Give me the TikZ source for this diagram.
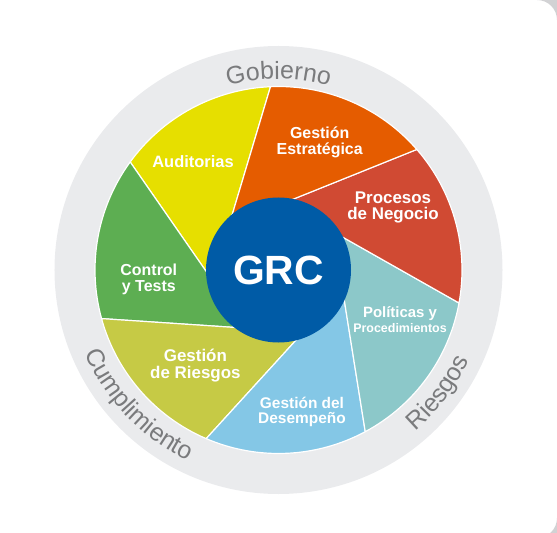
\documentclass[tikz,border=0pt]{standalone}
\usepackage{fontspec}
\setmainfont{Liberation Sans}
\usetikzlibrary{calc,decorations.text}

\definecolor{ringgray}{HTML}{EAEBED}
\definecolor{ringtext}{HTML}{7A7B7D}
\definecolor{cardshade}{HTML}{D2D2D4}
\definecolor{grcblue}{HTML}{005BA6}
\definecolor{segyellow}{HTML}{E6DF00}
\definecolor{segorange}{HTML}{E55C00}
\definecolor{segred}{HTML}{D04A33}
\definecolor{segteal}{HTML}{8CC8C9}
\definecolor{segblue}{HTML}{84C7E6}
\definecolor{segolive}{HTML}{C6CA45}
\definecolor{seggreen}{HTML}{5DAE52}

\tikzset{
  slice/.style={fill=#1,draw=white,line width=1.2pt,line join=round},
  seglabel/.style={text=white,align=center,inner sep=0pt,
    font=\bfseries\fontsize{#1}{#1}\selectfont},
  seglabel/.default=16,
  ringlabel/.style={decorate,decoration={text along path,text align=center,
    text={|\fontsize{25}{25}\selectfont\color{ringtext}|#1}}}
}

\begin{document}
\begin{tikzpicture}[x=1bp,y=1bp]

        \useasboundingbox (-278.5,-263) rectangle (278.5,270);
        \clip (-278.5,-263) rectangle (278.5,270);

        \fill[cardshade] (278.5,270) -- (258.5,270)
          arc[start angle=90,end angle=0,radius=20bp] -- cycle;
        \fill[cardshade] (278.5,-263) -- (278.5,-248)
          arc[start angle=0,end angle=-90,radius=20bp] -- (278.5,-268) -- cycle;

        \fill[ringgray] (0,0) circle[radius=224bp];

        \foreach \c [count=\i from 0] in
            {segyellow,seggreen,segolive,segblue,segteal,segred,segorange} {
          \pgfmathsetmacro{\a}{92.5+\i*360/7}
          \pgfmathsetmacro{\b}{\a+360/7}
          \fill[slice=\c] (0,0)
            -- ($(\a:183.5bp)!1.15!(\a+37:72.5bp)$)
            -- (\a:183.5bp) arc[start angle=\a,end angle=\b,radius=183.5bp]
            -- ($(\b:183.5bp)!1.15!(\b+37:72.5bp)$) -- cycle;
        }

        \node[circle,fill=grcblue,minimum size=145bp,inner sep=0pt,text=white,
          font=\bfseries\fontsize{41}{41}\selectfont] (grc) at (0,0) {GRC};

        \path[ringlabel=Gobierno] (110:191bp)
          arc[start angle=110,end angle=70,radius=191bp];
        \path[ringlabel=Cumplimiento] (198:211bp)
          arc[start angle=198,end angle=250,radius=211bp];
        \path[ringlabel=Riesgos] (-56:211bp)
          arc[start angle=-56,end angle=-19,radius=211bp];

        \begin{scope}[every node/.style={seglabel}]
          \node (auditorias)  at (-85.5,108.4) [seglabel=16.5] {Auditorias};
          \node (estrategica) at (41.2,127.7)  {Gestión\\Estratégica};
          \node (negocio)     at (114.5,62.5)  [seglabel=17] {Procesos\\de Negocio};
          \node (control)     at (-129.7,-9)   {Control\\y Tests};
          \node (politicas)   at (121.5,-49.7) [seglabel=15]
            {Políticas y\\{\fontsize{12.5}{12.5}\selectfont Procedimientos}};
          \node (riesgos)     at (-83.1,-95.6) [seglabel=17] {Gestión\\de Riesgos};
          \node (desempeno)   at (23.5,-142)   [seglabel=15.5] {Gestión del\\Desempeño};
        \end{scope}

      \end{tikzpicture}
\end{document}
